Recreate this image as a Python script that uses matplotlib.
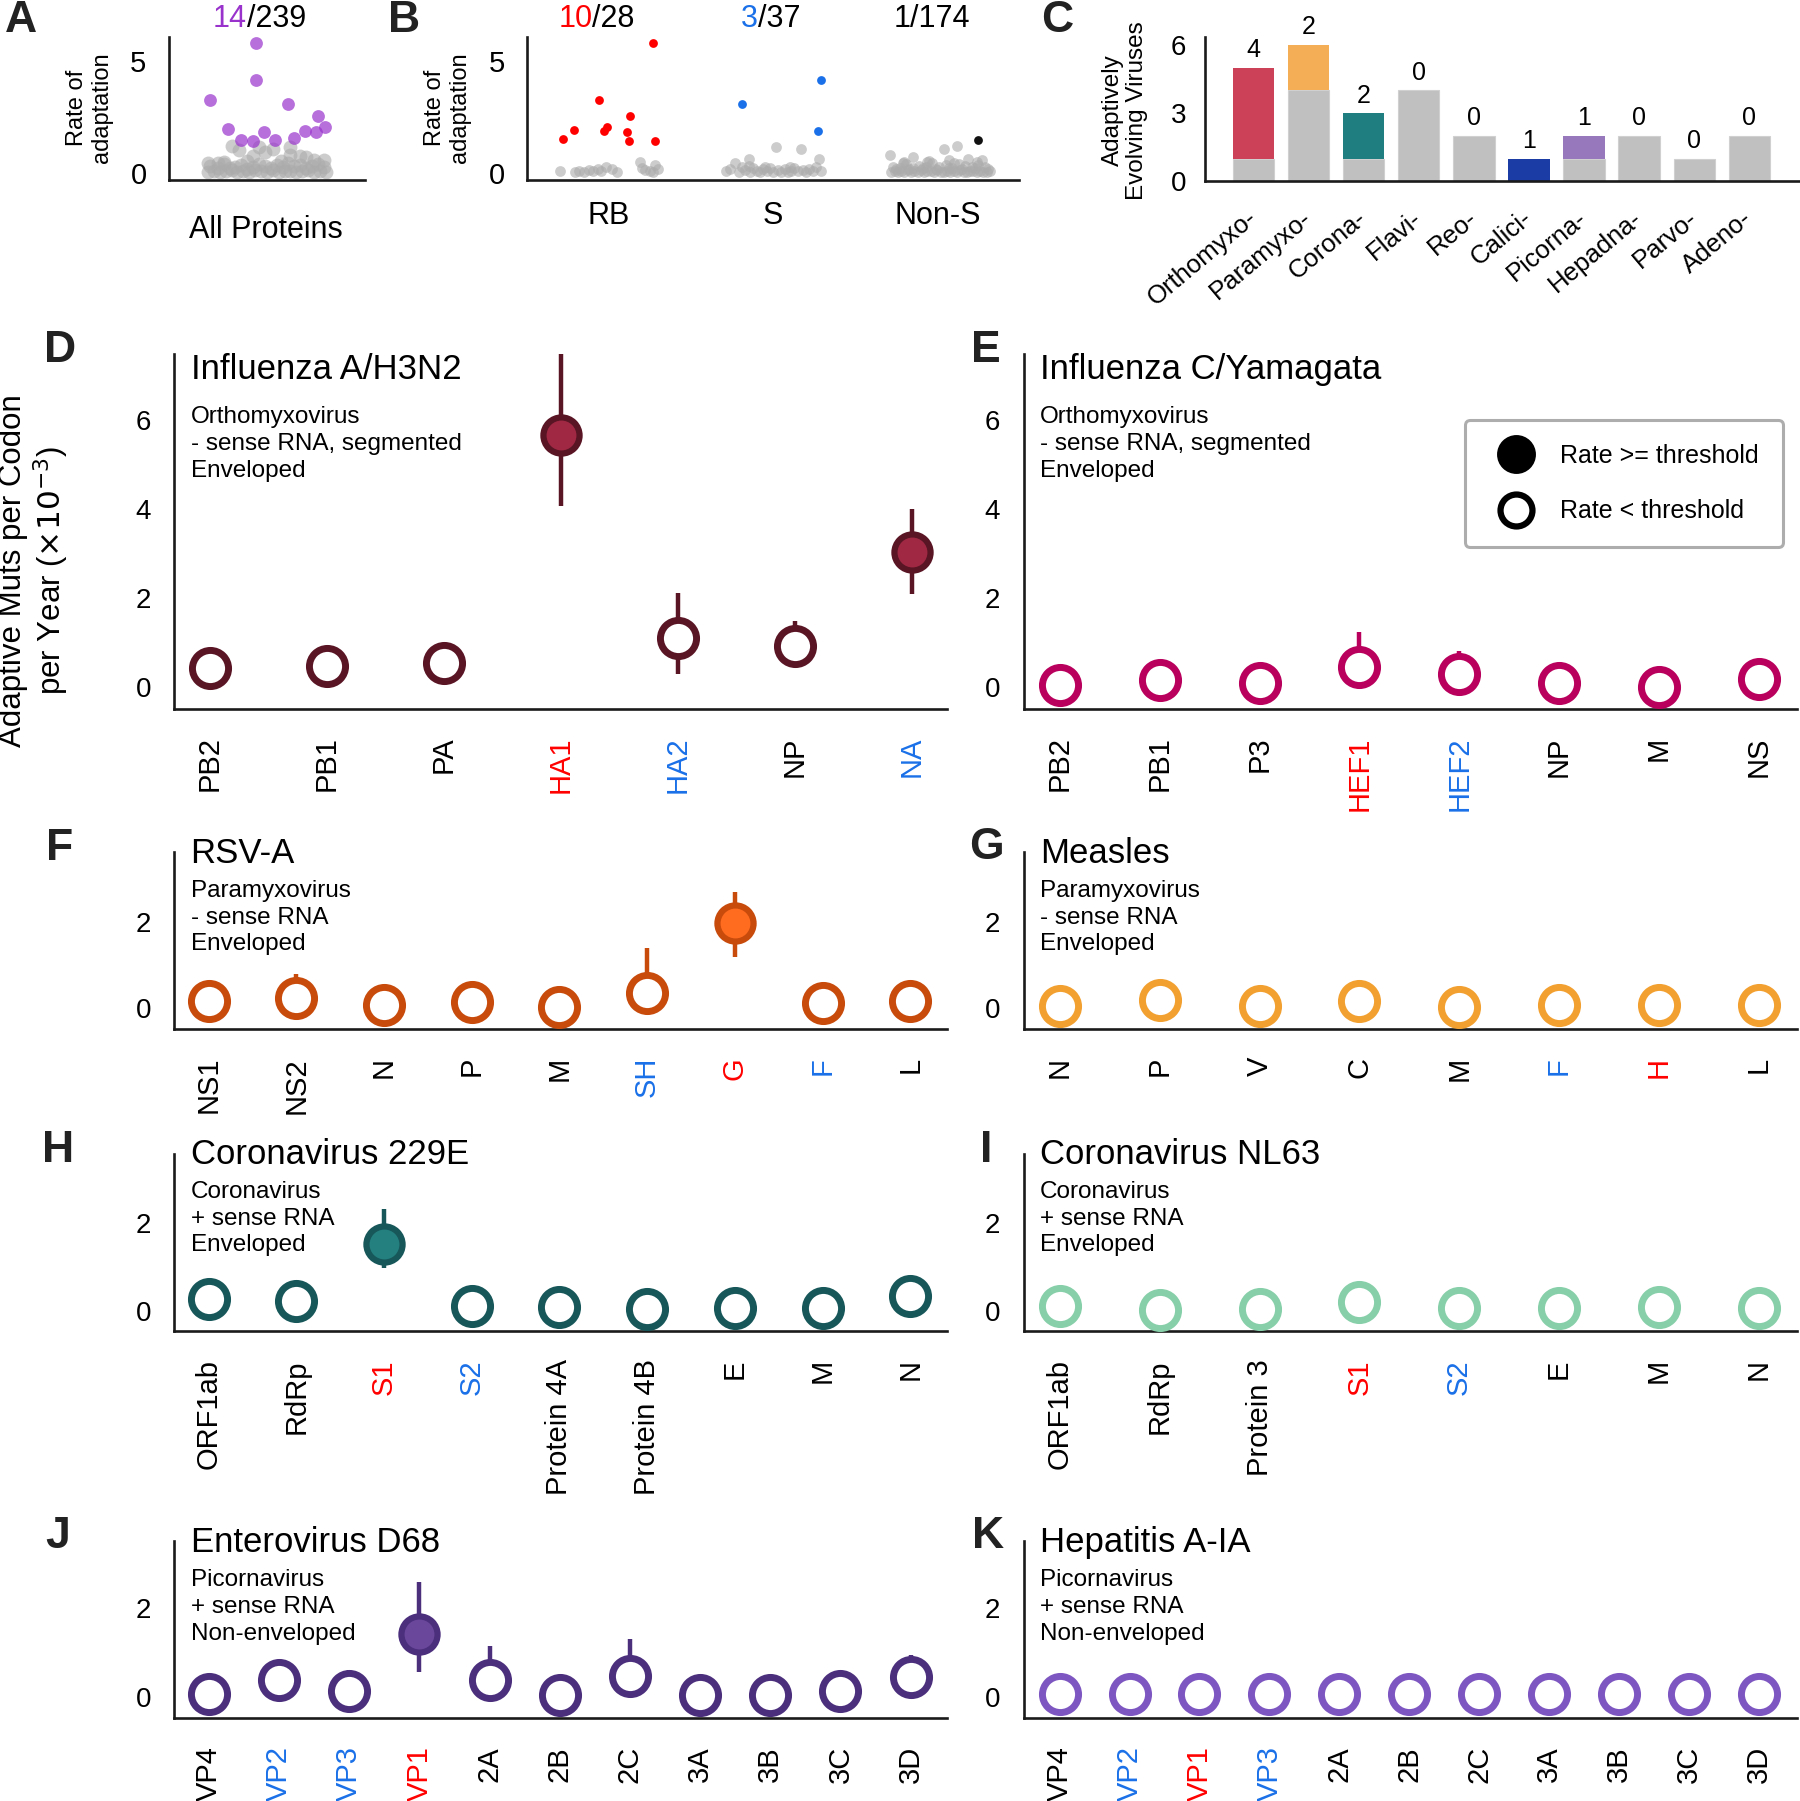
import matplotlib
matplotlib.use("Agg")
import matplotlib.pyplot as plt
from matplotlib.lines import Line2D

plt.rcParams["font.family"] = ["Liberation Sans", "DejaVu Sans"]
plt.rcParams["mathtext.fontset"] = "dejavusans"

# Daten Panel A / B (Rate der Adaptation pro Protein)

alle_grau_x = [0.20, 0.23, 0.26, 0.29, 0.32, 0.35, 0.38, 0.41, 0.44, 0.47, 0.50, 0.53, 0.56, 0.59, 0.62, 0.65,
               0.68, 0.71, 0.74, 0.77, 0.80,
               0.21, 0.25, 0.28, 0.31, 0.34, 0.37, 0.40, 0.43, 0.46, 0.49, 0.52, 0.55, 0.58, 0.61, 0.64,
               0.67, 0.70, 0.73, 0.76, 0.79,
               0.20, 0.25, 0.32, 0.36, 0.43, 0.46, 0.49, 0.53, 0.62, 0.62, 0.67, 0.70, 0.74, 0.79, 0.57,
               0.40, 0.28]
alle_grau_y = [0.08, 0.12, 0.05, 0.10, 0.15, 0.06, 0.11, 0.04, 0.13, 0.09, 0.07, 0.14, 0.05, 0.10, 0.12, 0.06,
               0.09, 0.13, 0.08, 0.11, 0.07,
               0.35, 0.25, 0.40, 0.22, 0.30, 0.38, 0.20, 0.28, 0.42, 0.33, 0.24, 0.36, 0.27, 0.45, 0.31,
               0.39, 0.26, 0.34, 0.43, 0.29,
               0.45, 0.45, 1.24, 1.04, 0.78, 1.19, 0.97, 1.09, 1.19, 0.82, 0.79, 0.75, 0.60, 0.60, 0.55,
               0.55, 0.50]
alle_lila_x = [0.211, 0.30, 0.368, 0.427, 0.443, 0.443, 0.484, 0.54, 0.607, 0.636, 0.694, 0.749, 0.758, 0.795]
alle_lila_y = [3.28, 1.99, 1.48, 1.45, 5.80, 4.16, 1.87, 1.51, 3.10, 1.57, 1.90, 1.84, 2.58, 2.07]

rb_grau_x = [0.20, 0.29, 0.32, 0.35, 0.38, 0.40, 0.43, 0.45, 0.48, 0.52, 0.55, 0.70, 0.69, 0.72, 0.78, 0.77,
             0.80, 0.75]
rb_grau_y = [0.10, 0.08, 0.12, 0.05, 0.15, 0.10, 0.20, 0.12, 0.30, 0.18, 0.06, 0.25, 0.52, 0.15, 0.37, 0.07,
             0.20, 0.10]
rb_rot_x = [0.217, 0.287, 0.44, 0.469, 0.49, 0.612, 0.622, 0.63, 0.77, 0.783]
rb_rot_y = [1.54, 1.95, 3.28, 1.90, 2.09, 1.86, 1.46, 2.56, 5.80, 1.44]

s_grau_x = [1.21, 1.24, 1.27, 1.29, 1.31, 1.33, 1.35, 1.36, 1.38, 1.40, 1.42, 1.44, 1.46, 1.48, 1.50, 1.52,
            1.53, 1.55, 1.57, 1.59, 1.61, 1.63, 1.65, 1.67, 1.68, 1.70, 1.72, 1.74, 1.76, 1.78, 1.79, 1.35,
            1.45, 1.60]
s_grau_y = [0.10, 0.20, 0.45, 0.05, 0.30, 0.15, 0.63, 0.08, 0.25, 0.12, 0.05, 0.18, 0.10, 0.22, 0.06, 1.19,
            0.14, 0.08, 0.20, 0.05, 0.12, 0.25, 0.09, 1.09, 0.15, 0.06, 0.20, 0.10, 0.30, 0.62, 0.12, 0.35,
            0.30, 0.28]
s_blau_x = [1.311, 1.79, 1.773]
s_blau_y = [3.11, 4.15, 1.89]

nons_grau_x = [2.22, 2.24, 2.26, 2.28, 2.30, 2.32, 2.34, 2.36, 2.38, 2.40, 2.42, 2.44, 2.46, 2.48, 2.50, 2.52,
               2.54, 2.56, 2.58, 2.60, 2.62, 2.64, 2.66, 2.68, 2.70, 2.72, 2.74, 2.76, 2.78, 2.80, 2.82,
               2.23, 2.27, 2.31, 2.35, 2.39, 2.43, 2.47, 2.51, 2.55, 2.59, 2.63, 2.67, 2.71, 2.75, 2.79,
               2.21, 2.35, 2.54, 2.62, 2.45, 2.30, 2.69, 2.57, 2.77,
               2.25, 2.33, 2.41, 2.49, 2.57, 2.65, 2.73, 2.81, 2.29, 2.44, 2.60, 2.74]
nons_grau_y = [0.05, 0.10, 0.08, 0.12, 0.06, 0.15, 0.04, 0.10, 0.07, 0.13, 0.05, 0.09, 0.11, 0.06, 0.14, 0.08,
               0.05, 0.12, 0.07, 0.10, 0.06, 0.13, 0.08, 0.05, 0.11, 0.09, 0.06, 0.12, 0.08, 0.05, 0.10,
               0.30, 0.25, 0.40, 0.22, 0.35, 0.28, 0.45, 0.30, 0.38, 0.25, 0.42, 0.33, 0.27, 0.36, 0.30,
               0.82, 0.74, 1.09, 1.24, 0.55, 0.50, 0.62, 0.60, 0.58,
               0.20, 0.18, 0.22, 0.19, 0.24, 0.20, 0.23, 0.18, 0.48, 0.52, 0.45, 0.50]
nons_schwarz_x = [2.748]
nons_schwarz_y = [1.49]

gruppen = ["RB", "S", "Non-S"]

# Daten Panel C (Virusfamilien)

familien = ["Orthomyxo-", "Paramyxo-", "Corona-", "Flavi-", "Reo-", "Calici-", "Picorna-", "Hepadna-",
            "Parvo-", "Adeno-"]
adaptiv = [4, 2, 2, 0, 0, 1, 1, 0, 0, 0]
nicht_adaptiv = [1, 4, 1, 4, 2, 0, 1, 2, 1, 2]

# Daten Panels D-K (Rate pro Protein, Fehlerbalken)

h3n2_proteine = ["PB2", "PB1", "PA", "HA1", "HA2", "NP", "NA"]
h3n2_rate = [0.43, 0.47, 0.54, 5.68, 1.11, 0.93, 3.03]
h3n2_unten = [0.25, 0.30, 0.35, 4.08, 0.29, 0.60, 2.09]
h3n2_oben = [0.60, 0.65, 0.75, 7.50, 2.11, 1.49, 4.00]

fluc_proteine = ["PB2", "PB1", "P3", "HEF1", "HEF2", "NP", "M", "NS"]
fluc_rate = [0.04, 0.15, 0.08, 0.44, 0.30, 0.08, 0.00, 0.18]
fluc_unten = [-0.10, 0.00, -0.05, 0.20, 0.10, -0.05, -0.10, 0.05]
fluc_oben = [0.20, 0.35, 0.25, 1.24, 0.81, 0.25, 0.15, 0.35]

rsv_proteine = ["NS1", "NS2", "N", "P", "M", "SH", "G", "F", "L"]
rsv_rate = [0.18, 0.23, 0.08, 0.14, 0.04, 0.35, 1.96, 0.13, 0.18]
rsv_unten = [0.00, 0.05, -0.10, 0.00, -0.10, 0.10, 1.19, 0.00, 0.00]
rsv_oben = [0.40, 0.80, 0.30, 0.35, 0.25, 1.39, 2.69, 0.35, 0.40]

masern_proteine = ["N", "P", "V", "C", "M", "F", "H", "L"]
masern_rate = [0.05, 0.20, 0.05, 0.18, 0.02, 0.07, 0.07, 0.08]
masern_unten = [-0.10, 0.05, -0.10, 0.05, -0.10, -0.05, -0.05, -0.05]
masern_oben = [0.20, 0.35, 0.20, 0.35, 0.15, 0.20, 0.20, 0.20]

cov229e_proteine = ["ORF1ab", "RdRp", "S1", "S2", "Protein 4A", "Protein 4B", "E", "M", "N"]
cov229e_rate = [0.26, 0.22, 1.51, 0.11, 0.08, 0.03, 0.05, 0.05, 0.34]
cov229e_unten = [0.10, 0.05, 0.96, -0.05, -0.05, -0.10, -0.10, -0.10, 0.15]
cov229e_oben = [0.45, 0.40, 2.30, 0.30, 0.25, 0.20, 0.20, 0.20, 0.55]

nl63_proteine = ["ORF1ab", "RdRp", "Protein 3", "S1", "S2", "E", "M", "N"]
nl63_rate = [0.11, 0.01, 0.03, 0.20, 0.06, 0.05, 0.08, 0.06]
nl63_unten = [-0.05, -0.10, -0.10, 0.05, -0.05, -0.05, -0.05, -0.05]
nl63_oben = [0.25, 0.15, 0.15, 0.35, 0.20, 0.20, 0.20, 0.20]

ev68_proteine = ["VP4", "VP2", "VP3", "VP1", "2A", "2B", "2C", "3A", "3B", "3C", "3D"]
ev68_rate = [0.05, 0.37, 0.13, 1.43, 0.37, 0.03, 0.47, 0.03, 0.03, 0.13, 0.45]
ev68_unten = [-0.10, 0.10, -0.05, 0.57, 0.10, -0.10, 0.20, -0.10, -0.10, 0.00, 0.20]
ev68_oben = [0.20, 0.78, 0.60, 2.60, 1.15, 0.20, 1.30, 0.20, 0.20, 0.35, 0.95]

hav_proteine = ["VP4", "VP2", "VP1", "VP3", "2A", "2B", "2C", "3A", "3B", "3C", "3D"]
hav_rate = [0.05, 0.05, 0.05, 0.05, 0.05, 0.05, 0.05, 0.05, 0.05, 0.05, 0.05]
hav_unten = [-0.10, -0.10, -0.10, -0.10, -0.10, -0.10, -0.10, -0.10, -0.10, -0.10, -0.10]
hav_oben = [0.20, 0.20, 0.20, 0.20, 0.20, 0.20, 0.20, 0.20, 0.20, 0.20, 0.20]

ROT = "#FF0000"
BLAU = "#1A70E8"
GRAU = "#C0C0C0"
LILA = "#9932CC"
PUNKT_GRAU = "#ababab"

W = 1568.0
fig = plt.figure(figsize=(18, 18.01), dpi=100)


def achse(l, t, r, b):
    return fig.add_axes([l / W, 1 - b / W, (r - l) / W, (b - t) / W])


def ftext(x, y, s, **kw):
    return fig.text(x / W, 1 - y / W, s, **kw)


def stil(ax):
    for s in ["top", "right"]:
        ax.spines[s].set_visible(False)
    for s in ["left", "bottom"]:
        ax.spines[s].set_linewidth(1.9)
        ax.spines[s].set_color("#1a1a1a")
    ax.tick_params(length=0)


# Panel A

ax_a = achse(147, 32, 318, 157)
stil(ax_a)
ax_a.scatter(alle_grau_x, alle_grau_y, s=100, color=PUNKT_GRAU, alpha=0.6, lw=0)
ax_a.scatter(alle_lila_x, alle_lila_y, s=85, color=LILA, alpha=0.7, lw=0)
ax_a.set_xlim(0, 1)
ax_a.set_ylim(-0.31, 6.1)
ax_a.set_xticks([])
ax_a.set_yticks([0, 5])
ax_a.tick_params(axis="y", labelsize=21, pad=16)
ftext(232, 207.6, "All Proteins", ha="center", va="baseline", fontsize=22)
ftext(78, 94, "Rate of\nadaptation", rotation=90, ha="center", va="center", fontsize=17, linespacing=1.15)
ftext(215, 23.2, "14", ha="right", va="baseline", fontsize=22, color=LILA)
ftext(215, 23.2, "/239", ha="left", va="baseline", fontsize=22)

# Panel B

ax_b = achse(459, 32, 888, 157)
stil(ax_b)
ax_b.scatter(rb_grau_x + s_grau_x + nons_grau_x, rb_grau_y + s_grau_y + nons_grau_y,
             s=60, color=PUNKT_GRAU, alpha=0.6, lw=0)
ax_b.scatter(rb_rot_x, rb_rot_y, s=40, color=ROT, lw=0)
ax_b.scatter(s_blau_x, s_blau_y, s=40, color=BLAU, lw=0)
ax_b.scatter(nons_schwarz_x, nons_schwarz_y, s=40, color="#111111", lw=0)
ax_b.set_xlim(0, 3)
ax_b.set_ylim(-0.31, 6.1)
ax_b.set_xticks([0.5, 1.5, 2.5])
ax_b.set_xticklabels(gruppen)
ax_b.set_yticks([0, 5])
ax_b.tick_params(axis="y", labelsize=21, pad=16)
ax_b.tick_params(axis="x", labelsize=22, pad=15)
ftext(390, 94, "Rate of\nadaptation", rotation=90, ha="center", va="center", fontsize=17, linespacing=1.15)
ftext(516, 23.2, "10", ha="right", va="baseline", fontsize=22, color=ROT)
ftext(516, 23.2, "/28", ha="left", va="baseline", fontsize=22)
ftext(660, 23.2, "3", ha="right", va="baseline", fontsize=22, color=BLAU)
ftext(660, 23.2, "/37", ha="left", va="baseline", fontsize=22)
ftext(812, 23.2, "1/174", ha="center", va="baseline", fontsize=22)

# Panel C

farben_c = ["#CC4158", "#F4AE55", "#1F7F80", GRAU, GRAU, "#1B3BA5", "#9878BD", GRAU, GRAU, GRAU]
ax_c = achse(1050, 32, 1567, 158)
stil(ax_c)
pos = list(range(len(familien)))
ax_c.bar(pos, nicht_adaptiv, width=0.75, color=GRAU, edgecolor="#d0d0d0", lw=0.8)
ax_c.bar(pos, adaptiv, width=0.75, bottom=nicht_adaptiv, color=farben_c, lw=0)
for i in pos:
    ax_c.text(i, adaptiv[i] + nicht_adaptiv[i] + 0.25, str(adaptiv[i]), ha="center", va="bottom", fontsize=18)
ax_c.set_xlim(-0.875, 9.9)
ax_c.set_ylim(0, 6.36)
ax_c.set_yticks([0, 3, 6])
ax_c.tick_params(axis="y", labelsize=20, pad=14)
ax_c.set_xticks(pos)
ax_c.set_xticklabels(familien, rotation=40, ha="right", va="center", rotation_mode="anchor", fontsize=18.5)
ax_c.tick_params(axis="x", pad=24)
ftext(980, 96, "Adaptively\nEvolving Viruses", rotation=90, ha="center", va="center", fontsize=17.5,
      linespacing=1.1)


# Panels D-K

def virus_panel(ax, proteine, rate, unten, oben, gefuellt, rb, s, rand, fuellung, ylim, xlim, yticks):
    stil(ax)
    for i in range(len(proteine)):
        ax.plot([i, i], [unten[i], oben[i]], color=rand, lw=3.2, solid_capstyle="butt", zorder=2)
        if proteine[i] in gefuellt:
            ax.plot(i, rate[i], "o", ms=26, mew=4.5, mec=rand, mfc=fuellung, zorder=3, clip_on=False)
        else:
            ax.plot(i, rate[i], "o", ms=26, mew=5, mec=rand, mfc="white", zorder=3, clip_on=False)
    ax.set_xlim(*xlim)
    ax.set_ylim(*ylim)
    ax.set_yticks(yticks)
    ax.tick_params(axis="y", labelsize=20, pad=17)
    ax.set_xticks(range(len(proteine)))
    ax.set_xticklabels(proteine, rotation=90, fontsize=21)
    ax.tick_params(axis="x", pad=20)
    for lbl in ax.get_xticklabels():
        if lbl.get_text() in rb:
            lbl.set_color(ROT)
        elif lbl.get_text() in s:
            lbl.set_color(BLAU)


def titel(x, y0, titel_text, zeilen, abstand):
    ftext(x, y0, titel_text, ha="left", va="baseline", fontsize=25)
    for k, z in enumerate(zeilen):
        ftext(x, y0 + abstand[k], z, ha="left", va="baseline", fontsize=17.5)


ax_d = achse(152, 308, 825, 617)
virus_panel(ax_d, h3n2_proteine, h3n2_rate, h3n2_unten, h3n2_oben, ["HA1", "NA"], ["HA1"], ["HA2", "NA"],
            "#5A1525", "#A02843", (-0.49, 7.5), (-0.3, 6.3), [0, 2, 4, 6])

ax_e = achse(892, 308, 1565, 617)
virus_panel(ax_e, fluc_proteine, fluc_rate, fluc_unten, fluc_oben, [], ["HEF1"], ["HEF2"],
            "#B8005C", "#B8005C", (-0.49, 7.5), (-0.36, 7.38), [0, 2, 4, 6])

ax_f = achse(152, 742, 825, 896)
virus_panel(ax_f, rsv_proteine, rsv_rate, rsv_unten, rsv_oben, ["G"], ["G"], ["SH", "F"],
            "#C84B0C", "#FF6B1F", (-0.48, 3.6), (-0.39, 8.42), [0, 2])

ax_g = achse(892, 742, 1565, 896)
virus_panel(ax_g, masern_proteine, masern_rate, masern_unten, masern_oben, [], ["H"], ["F"],
            "#F2A030", "#F2A030", (-0.48, 3.6), (-0.36, 7.38), [0, 2])

ax_h = achse(152, 1005, 825, 1159)
virus_panel(ax_h, cov229e_proteine, cov229e_rate, cov229e_unten, cov229e_oben, ["S1"], ["S1"], ["S2"],
            "#17575A", "#23807F", (-0.47, 3.55), (-0.39, 8.42), [0, 2])

ax_i = achse(892, 1005, 1565, 1159)
virus_panel(ax_i, nl63_proteine, nl63_rate, nl63_unten, nl63_oben, [], ["S1"], ["S2"],
            "#86CFA9", "#86CFA9", (-0.47, 3.55), (-0.36, 7.38), [0, 2])

ax_j = achse(152, 1342, 825, 1496)
virus_panel(ax_j, ev68_proteine, ev68_rate, ev68_unten, ev68_oben, ["VP1"], ["VP1"], ["VP2", "VP3"],
            "#4B2F7D", "#6B479B", (-0.49, 3.52), (-0.49, 10.52), [0, 2])

ax_k = achse(892, 1342, 1565, 1496)
virus_panel(ax_k, hav_proteine, hav_rate, hav_unten, hav_oben, [], ["VP1"], ["VP2", "VP3"],
            "#7D56C1", "#7D56C1", (-0.49, 3.52), (-0.51, 10.54), [0, 2])

# Titel und Untertitel
abst_d = [38, 62, 85]
abst_f = [29.6, 52.9, 76.1]
titel(166, 330, "Influenza A/H3N2", ["Orthomyxovirus", "- sense RNA, segmented", "Enveloped"], abst_d)
titel(906, 330, "Influenza C/Yamagata", ["Orthomyxovirus", "- sense RNA, segmented", "Enveloped"], abst_d)
titel(166, 751.4, "RSV-A", ["Paramyxovirus", "- sense RNA", "Enveloped"], abst_f)
titel(906, 751.4, "Measles", ["Paramyxovirus", "- sense RNA", "Enveloped"], abst_f)
titel(166, 1013.4, "Coronavirus 229E", ["Coronavirus", "+ sense RNA", "Enveloped"], abst_f)
titel(906, 1013.4, "Coronavirus NL63", ["Coronavirus", "+ sense RNA", "Enveloped"], abst_f)
titel(166, 1351.6, "Enterovirus D68", ["Picornavirus", "+ sense RNA", "Non-enveloped"], abst_f)
titel(906, 1351.6, "Hepatitis A-IA", ["Picornavirus", "+ sense RNA", "Non-enveloped"], abst_f)

# Legende
griffe = [
    Line2D([], [], ls="", marker="o", ms=25, mfc="black", mec="black", mew=3),
    Line2D([], [], ls="", marker="o", ms=23, mfc="white", mec="black", mew=4.5),
]
leg = ax_e.legend(griffe, ["Rate >= threshold", "Rate < threshold"], loc="upper right",
                  bbox_to_anchor=(0.982, 0.812), fontsize=18, frameon=True, borderpad=0.95,
                  labelspacing=1.25, handletextpad=0.72, handlelength=2.14, borderaxespad=0)
leg.get_frame().set_edgecolor("#999999")
leg.get_frame().set_linewidth(2.2)

# y-Achsenbeschriftung
ftext(30, 497, "Adaptive Muts per Codon\nper Year ($\\times10^{-3}$)", rotation=90, ha="center", va="center",
      fontsize=22.5, linespacing=1.1, multialignment="center")

# Panel-Buchstaben
buchstaben = {"A": (18, 18), "B": (352, 18), "C": (921, 18), "D": (52, 305), "E": (859, 305),
              "F": (52, 739), "G": (859, 738), "H": (51, 1002), "I": (859, 1002), "J": (50, 1338),
              "K": (861, 1338)}
for b, (x, y) in buchstaben.items():
    ftext(x, y, b, ha="center", va="center", fontsize=32, weight="bold", color="#222222")

plt.savefig("out.png", dpi=100)
